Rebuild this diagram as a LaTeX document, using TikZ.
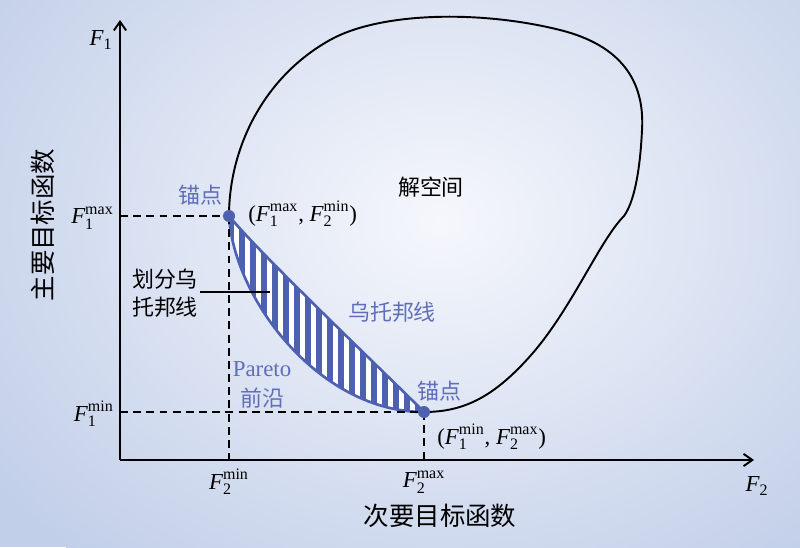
\documentclass[tikz,border=0pt]{standalone}
\usepackage{fontspec}
\usepackage{amsmath}
\setmainfont{Liberation Serif}
\newfontfamily\cjk{Noto Sans CJK SC}
\usetikzlibrary{arrows.meta}
\definecolor{pblue}{RGB}{78,96,176}
\definecolor{tblue}{RGB}{96,110,186}
\definecolor{bgin}{RGB}{245,247,252}
\definecolor{bgout}{RGB}{194,207,233}
\newcommand{\FF}[2]{$\textit{F}_{\text{#1}}^{\text{#2}}$}
\begin{document}
\begin{tikzpicture}[x=0.02cm,y=-0.02cm,
  axis/.style={line width=1.1pt,-{Straight Barb[length=5pt,width=7pt]}},
  guide/.style={line width=0.9pt,dash pattern=on 4.5pt off 3pt},
  dot/.style={circle,fill=pblue,inner sep=0pt,minimum size=0.24cm},
  mlabel/.style={font=\fontsize{13}{15}\selectfont,inner sep=0pt},
  cblue/.style={font=\cjk\fontsize{12.5}{15}\selectfont,text=tblue,inner sep=0pt},
  cblack/.style={font=\cjk\fontsize{12.5}{15}\selectfont,inner sep=0pt},
  axlabel/.style={font=\cjk\fontsize{14.5}{16}\selectfont,inner sep=0pt}]
\useasboundingbox (0,0) rectangle (800,547);
\fill[bgout] (0,0) rectangle (800,547);
\begin{scope}
\clip (0,0) rectangle (800,547);
\shade[inner color=bgin, outer color=bgout] (440,220) ellipse (560 and 440);
\end{scope}
% coordinates
\coordinate (O) at (120,460);
\coordinate (ytop) at (120,20);
\coordinate (xend) at (754,460);
\coordinate (A) at (229,216);
\coordinate (B) at (424,412);
\coordinate (yA) at (120,216);
\coordinate (yB) at (120,412);
\coordinate (xA) at (229,460);
\coordinate (xB) at (424,460);
% shaded region
\begin{scope}
\clip (A) .. controls (262,256) and (380,368) .. (B) .. controls (320,412) and (234,300) .. (A);
\fill[white] (200,200) rectangle (440,420);
\foreach \x in {231,242,...,430} \draw[pblue,line width=2.9pt] (\x,200) -- (\x,420);
\end{scope}
\draw[pblue,line width=1.5pt,line join=round] (A) .. controls (262,256) and (380,368) .. (B) .. controls (320,412) and (234,300) .. (A);
% guides
\draw[guide] (yA) -- (A);
\draw[guide] (A) -- (xA);
\draw[guide] (yB) -- (B);
\draw[guide] (B) -- (xB);
% axes
\draw[axis] (O) -- (ytop);
\draw[axis] (O) -- (xend);
% solution space
\draw[line width=1.1pt] (A) .. controls (229,150) and (262,78) .. (330,40)
  .. controls (380,12) and (480,10) .. (560,30)
  .. controls (620,45) and (645,80) .. (642,130)
  .. controls (640,172) and (634,202) .. (624,216)
  .. controls (600,240) and (572,308) .. (532,354)
  .. controls (495,396) and (465,412) .. (B);
\node[dot] (dA) at (A) {};
\node[dot] (dB) at (B) {};
% labels
\node[mlabel] (F1) at (101,40) {$\textit{F}_{\text{1}}$};
\node[mlabel] (F2) at (757,486) {$\textit{F}_{\text{2}}$};
\node[mlabel,anchor=east] (f1max) at (114,218) {\FF{1}{max}};
\node[mlabel,anchor=east] (f1min) at (114,414) {\FF{1}{min}};
\node[mlabel] (f2min) at (229,482) {\FF{2}{min}};
\node[mlabel] (f2max) at (424,482) {\FF{2}{max}};
\node[mlabel,anchor=west] (pA) at (248,214) {(\FF{1}{max}, \FF{2}{min})};
\node[mlabel,anchor=west] (pB) at (437,437) {(\FF{1}{min}, \FF{2}{max})};
\node[cblue] (mA) at (200,195) {锚点};
\node[cblue] (mB) at (439,391) {锚点};
\node[cblack] (d1) at (165,279) {划分乌};
\node[cblack] (d2) at (165,307) {托邦线};
\coordinate (lL) at (200,292);
\coordinate (lR) at (270,292);
\draw[line width=0.8pt] (lL) -- (lR);
\node[cblue] (ut) at (392,312) {乌托邦线};
\node[cblue,font=\fontsize{13}{15}\selectfont] (par) at (262,369) {Pareto};
\node[cblue] (qy) at (262,398) {前沿};
\node[cblack] (jk) at (431,187) {解空间};
\node[axlabel] (xl) at (440,516) {次要目标函数};
\node[axlabel,rotate=90] (yl) at (43,225) {主要目标函数};
\end{tikzpicture}
\end{document}
